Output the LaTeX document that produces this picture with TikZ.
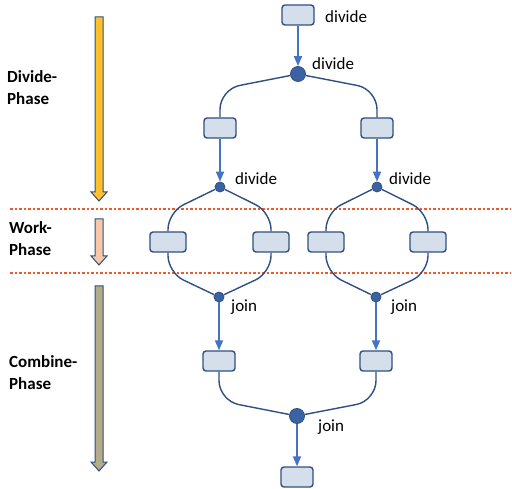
\documentclass[tikz,border=0pt]{standalone}
\usepackage{fontspec}
\setmainfont{Carlito}
\usetikzlibrary{arrows.meta}

\definecolor{boxfill}{HTML}{D5DFEC}
\definecolor{boxline}{HTML}{2F4F80}
\definecolor{dotfill}{HTML}{3B63A3}
\definecolor{arrowblue}{HTML}{4472C4}
\definecolor{sepline}{HTML}{EE5A2E}
\definecolor{divcol}{HTML}{FFC12B}
\definecolor{workcol}{HTML}{F6C7A8}
\definecolor{combcol}{HTML}{B3AC8A}

\tikzset{
  task/.style={draw=boxline, line width=1.4pt, fill=boxfill, rounded corners=3pt,
    minimum width=32pt, minimum height=20pt, inner sep=0pt},
  worktask/.style={task, minimum width=36pt},
  bigdot/.style={circle, draw=boxline, fill=dotfill, line width=0.8pt,
    minimum size=15pt, inner sep=0pt},
  smalldot/.style={bigdot, minimum size=10pt},
  flow/.style={draw=arrowblue, line width=1.7pt, -{Triangle[width=8pt,length=10pt]}},
  link/.style={draw=boxline, line width=1.4pt},
  sep/.style={draw=sepline, line width=1.1pt, dash pattern=on 2.5pt off 2pt},
  txt/.style={font=\fontsize{17}{18}\selectfont, inner sep=0pt, anchor=west},
  phase/.style={font=\fontsize{17}{22}\selectfont\bfseries, inner sep=0pt,
    anchor=north west, align=left}
}

\begin{document}
\begin{tikzpicture}[x=1pt, y=-1pt]
    \useasboundingbox (0,0) rectangle (512,489);

    % phase bands
    \draw[sep] (10,209) -- (511,209);
    \draw[sep] (10,273) -- (511,273);

    \foreach \ya/\yb/\col in {17/201/divcol, 219/265/workcol, 286/471/combcol} {
        \filldraw[draw=boxline, line width=1pt, fill=\col]
            (95,\ya) -- (103,\ya) -- (103,\yb-9) -- (107,\yb-9) -- (99,\yb)
            -- (91,\yb-9) -- (95,\yb-9) -- cycle;
    }

    \node[phase] (lbldiv) at (7,70) {Divide-\\Phase};
    \node[phase] (lblwork) at (9,221) {Work-\\Phase};
    \node[phase] (lblcomb) at (9,355) {Combine-\\Phase};

    % divide
    \node[task] (top) at (298,15) {};
    \node[bigdot] (d0) at (298,74) {};
    \node[task] (bl) at (220,128) {};
    \node[task] (br) at (377,128) {};
    \node[smalldot] (dl) at (220,187) {};
    \node[smalldot] (dr) at (377,187) {};

    \node[txt] at (325,17) {divide};
    \node[txt] at (312,64) {divide};
    \node[txt] at (235,179) {divide};
    \node[txt] at (389,179) {divide};

    \draw[flow] (top) -- (d0);
    \draw[flow] (bl) -- (dl);
    \draw[flow] (br) -- (dr);
    \draw[link, rounded corners=20pt] (d0) -- ([yshift=28pt]bl.north) -- (bl.north);
    \draw[link, rounded corners=20pt] (d0) -- ([yshift=28pt]br.north) -- (br.north);

    % work
    \node[worktask] (w1) at (168,242) {};
    \node[worktask] (w2) at (271,242) {};
    \node[worktask] (w3) at (326,242) {};
    \node[worktask] (w4) at (428,242) {};

    \draw[link, rounded corners=17pt] (dl) -- ([yshift=19pt]w1.north) -- (w1.north);
    \draw[link, rounded corners=17pt] (dl) -- ([yshift=19pt]w2.north) -- (w2.north);
    \draw[link, rounded corners=17pt] (dr) -- ([yshift=19pt]w3.north) -- (w3.north);
    \draw[link, rounded corners=17pt] (dr) -- ([yshift=19pt]w4.north) -- (w4.north);

    % combine
    \node[smalldot] (jl) at (219,297) {};
    \node[smalldot] (jr) at (376,297) {};
    \node[task] (cl) at (219,361) {};
    \node[task] (cr) at (376,361) {};
    \node[bigdot] (j0) at (297,416) {};
    \node[task] (res) at (297,477) {};

    \node[txt] at (231,307) {join};
    \node[txt] at (391,307) {join};
    \node[txt] at (318,427) {join};

    \draw[link, rounded corners=17pt] (w1.south) -- ([yshift=-20pt]w1.south) -- (jl);
    \draw[link, rounded corners=17pt] (w2.south) -- ([yshift=-20pt]w2.south) -- (jl);
    \draw[link, rounded corners=17pt] (w3.south) -- ([yshift=-20pt]w3.south) -- (jr);
    \draw[link, rounded corners=17pt] (w4.south) -- ([yshift=-20pt]w4.south) -- (jr);

    \draw[flow] (jl) -- (cl);
    \draw[flow] (jr) -- (cr);
    \draw[link, rounded corners=20pt] (cl.south) -- ([yshift=-29pt]cl.south) -- (j0);
    \draw[link, rounded corners=20pt] (cr.south) -- ([yshift=-29pt]cr.south) -- (j0);
    \draw[flow] (j0) -- (res);
\end{tikzpicture}
\end{document}
